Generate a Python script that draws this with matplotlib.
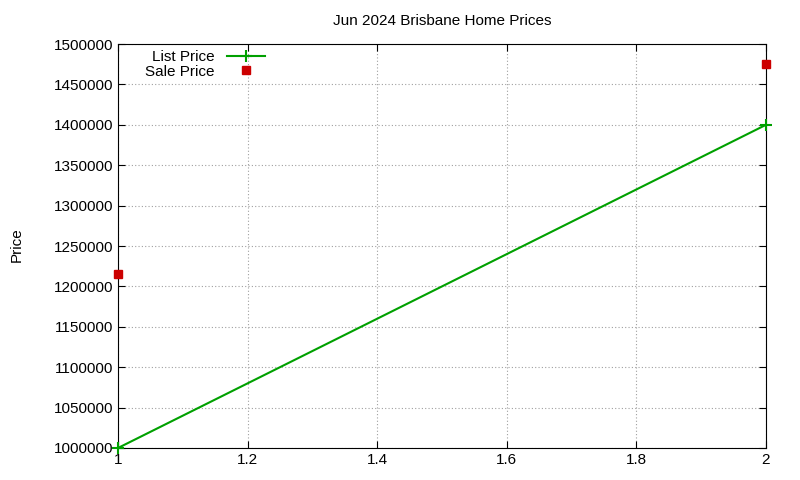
import matplotlib
matplotlib.use("Agg")
import matplotlib.pyplot as plt
from matplotlib.ticker import FormatStrFormatter

plt.rcParams['font.family'] = ['Liberation Sans', 'DejaVu Sans']

x_vals = [1, 2]
list_price = [1000000, 1400000]
sale_price = [1215000, 1475000]

fig = plt.figure(figsize=(8, 4.8), dpi=100)
ax = fig.add_axes([0.1475, 0.0667, 0.81, 0.8416])

ax.plot(x_vals, list_price, color='#00a000', lw=1.5, marker='+', ms=8, mew=1.5,
        label='List Price', clip_on=False, zorder=3)
ax.plot(x_vals, sale_price, color='#cc0000', ls='none', marker='s', ms=5.5,
        label='Sale Price', clip_on=False, zorder=3)

ax.set_xlim(1, 2)
ax.set_ylim(1000000, 1500000)
ax.set_xticks([1, 1.2, 1.4, 1.6, 1.8, 2])
ax.set_xticklabels(['1', '1.2', '1.4', '1.6', '1.8', '2'])
ax.set_yticks(range(1000000, 1500001, 50000))
ax.yaxis.set_major_formatter(FormatStrFormatter('%d'))
ax.tick_params(direction='in', labelsize=11, top=True, right=True, length=5)
ax.grid(True, color='#a0a0a0', ls=(0, (1, 2)), lw=0.8)
ax.set_title('Jun 2024 Brisbane Home Prices', fontsize=11, pad=14)
fig.text(0.0125, 0.49, 'Price', rotation=90, fontsize=11, va='center')

ax.legend(loc='upper left', bbox_to_anchor=(0.025, 1.012), frameon=False,
          markerfirst=False, fontsize=11, handlelength=2.5,
          labelspacing=0.05, borderpad=0.2)

fig.savefig('out.png', dpi=100)
